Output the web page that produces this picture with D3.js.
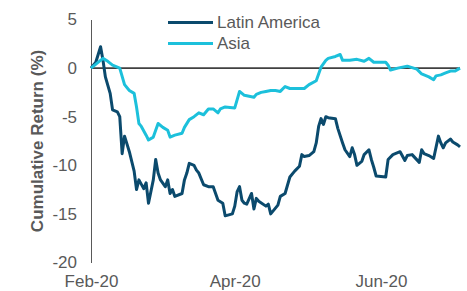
<!DOCTYPE html>
<html>
<head>
<meta charset="utf-8">
<script src="https://cdn.jsdelivr.net/npm/d3@7"></script>
<style>
  body { margin: 0; background: #fff; }
  svg { display: block; font-family: "Liberation Sans", Arial, sans-serif; }
  .tick text { fill: #595959; font-size: 17px; }
  .axislabel { fill: #595959; font-size: 17px; font-weight: bold; }
  .legend text { fill: #595959; font-size: 17px; }
</style>
</head>
<body>
<div id="chart"></div>
<script>
// cumulative return (%)
var latamDates = ["2020-02-01","2020-02-03","2020-02-05","2020-02-06","2020-02-07","2020-02-09","2020-02-10","2020-02-12","2020-02-13","2020-02-14",
  "2020-02-15","2020-02-16","2020-02-17","2020-02-18","2020-02-19","2020-02-20","2020-02-21","2020-02-23","2020-02-24","2020-02-25",
  "2020-02-27","2020-02-28","2020-02-29","2020-03-01","2020-03-03","2020-03-04","2020-03-05","2020-03-06","2020-03-07","2020-03-10",
  "2020-03-11","2020-03-12","2020-03-13","2020-03-15","2020-03-16","2020-03-17","2020-03-19","2020-03-21","2020-03-23","2020-03-25",
  "2020-03-27","2020-03-28","2020-03-31","2020-04-01","2020-04-02","2020-04-03","2020-04-04","2020-04-05","2020-04-06","2020-04-08",
  "2020-04-09","2020-04-10","2020-04-11","2020-04-14","2020-04-15","2020-04-16","2020-04-19","2020-04-20","2020-04-22","2020-04-24",
  "2020-04-26","2020-04-28","2020-04-29","2020-04-30","2020-05-02","2020-05-04","2020-05-05","2020-05-06","2020-05-07","2020-05-08",
  "2020-05-09","2020-05-10","2020-05-13","2020-05-14","2020-05-16","2020-05-17","2020-05-19","2020-05-20","2020-05-21","2020-05-22",
  "2020-05-24","2020-05-25","2020-05-27","2020-05-28","2020-05-29","2020-05-30","2020-06-03","2020-06-04","2020-06-06","2020-06-07",
  "2020-06-09","2020-06-11","2020-06-12","2020-06-14","2020-06-17","2020-06-18","2020-06-19","2020-06-21","2020-06-23","2020-06-25",
  "2020-06-26","2020-06-27","2020-06-28","2020-06-30","2020-07-01","2020-07-03","2020-07-04"];
var latamReturns = [0, 0.6, 2.2, 0.8, -0.9, -2.6, -4.3, -4.5, -5.0, -8.8,
  -7.0, -7.8, -8.6, -9.6, -10.6, -12.5, -11.5, -12.4, -11.8, -13.9,
  -11.5, -9.4, -10.8, -11.5, -12.2, -11.5, -12.9, -12.5, -13.2, -12.9,
  -11.5, -10.8, -9.8, -10.0, -10.5, -10.8, -12.0, -12.2, -12.2, -13.6,
  -13.9, -15.2, -15.0, -14.2, -12.7, -12.2, -13.6, -13.9, -14.0, -12.9,
  -14.5, -13.4, -13.7, -14.2, -14.0, -15.0, -14.1, -13.2, -12.9, -11.2,
  -10.6, -10.1, -8.9, -9.1, -9.0, -8.6, -7.7, -6.0, -5.2, -5.8,
  -5.0, -5.1, -5.2, -6.2, -7.7, -8.4, -9.1, -8.2, -8.9, -10.0,
  -9.6, -8.9, -8.4, -9.4, -10.2, -11.1, -11.2, -9.4, -8.9, -8.8,
  -8.6, -9.5, -9.0, -8.9, -9.7, -8.4, -8.8, -9.0, -9.3, -7.0,
  -7.7, -8.2, -7.7, -7.3, -7.6, -7.9, -8.1];

var asiaDates = ["2020-02-01","2020-02-06","2020-02-08","2020-02-10","2020-02-13","2020-02-15","2020-02-17","2020-02-19","2020-02-20","2020-02-21",
  "2020-02-22","2020-02-24","2020-02-25","2020-02-27","2020-02-29","2020-03-02","2020-03-04","2020-03-05","2020-03-07","2020-03-10",
  "2020-03-11","2020-03-13","2020-03-15","2020-03-17","2020-03-19","2020-03-21","2020-03-23","2020-03-25","2020-03-26","2020-03-28",
  "2020-04-01","2020-04-03","2020-04-05","2020-04-07","2020-04-09","2020-04-10","2020-04-12","2020-04-14","2020-04-16","2020-04-18",
  "2020-04-20","2020-04-22","2020-04-24","2020-04-30","2020-05-02","2020-05-05","2020-05-07","2020-05-09","2020-05-10","2020-05-13",
  "2020-05-15","2020-05-16","2020-05-19","2020-05-22","2020-05-25","2020-05-27","2020-05-29","2020-06-03","2020-06-04","2020-06-05",
  "2020-06-08","2020-06-12","2020-06-16","2020-06-18","2020-06-21","2020-06-23","2020-06-24","2020-06-26","2020-06-28","2020-06-30",
  "2020-07-02","2020-07-04"];
var asiaReturns = [0, 1.0, 0.7, 0.3, 0.0, -1.7, -2.3, -2.6, -4.0, -5.7,
  -6.0, -6.9, -7.4, -7.1, -5.7, -6.1, -6.4, -7.1, -6.9, -6.7,
  -6.1, -5.3, -5.0, -4.6, -4.8, -4.2, -4.2, -4.6, -4.2, -4.0,
  -4.1, -2.4, -2.8, -2.9, -3.0, -2.7, -2.5, -2.4, -2.3, -2.3,
  -2.4, -1.9, -2.1, -2.1, -1.7, -1.3, 0.1, 0.8, 1.0, 1.2,
  1.4, 0.8, 0.8, 0.9, 0.7, 1.0, 0.6, 0.6, 0.3, -0.2,
  0.0, 0.2, -0.1, -0.6, -0.9, -1.2, -0.8, -0.7, -0.5, -0.3,
  -0.3, 0.0];

var seriesNames = ["Latin America", "Asia"];
var seriesColors = ["#0b4a6d", "#1cc0db"];
var yTicks = [5, 0, -5, -10, -15, -20];
var xTickDates = ["2020-02-01", "2020-04-01", "2020-06-01"];
var xDomain = ["2020-02-01", "2020-07-04"];

var width = 467, height = 291;
var margin = {top: 19.5, right: 7, bottom: 28.5, left: 91};

var parse = d3.timeParse("%Y-%m-%d");

var svg = d3.select("#chart")
  .append("svg")
  .attr("width", width)
  .attr("height", height);

var x = d3.scaleTime()
  .domain(xDomain.map(parse))
  .range([margin.left, width - margin.right]);

var y = d3.scaleLinear()
  .domain([-20, 5])
  .range([height - margin.bottom, margin.top]);

// zero line
svg.append("line")
  .attr("x1", x.range()[0])
  .attr("x2", x.range()[1])
  .attr("y1", y(0))
  .attr("y2", y(0))
  .attr("stroke", "#404040")
  .attr("stroke-width", 1.75);

// Y axis
var yAxis = svg.append("g")
  .attr("transform", "translate(" + margin.left + ",0)")
  .call(d3.axisLeft(y).tickValues(yTicks).tickSize(0).tickPadding(14)
    .tickFormat(function(d) { return String(d); }));
yAxis.select(".domain").attr("stroke", "#595959").attr("stroke-width", 1);
yAxis.selectAll("text").attr("font-family", null).attr("font-size", null);

// X axis (labels only)
var xAxis = svg.append("g")
  .attr("transform", "translate(0," + y(-20) + ")")
  .call(d3.axisBottom(x).tickValues(xTickDates.map(parse)).tickSize(0).tickPadding(12)
    .tickFormat(d3.timeFormat("%b-%y")));
xAxis.select(".domain").remove();
xAxis.selectAll("text").attr("font-family", null).attr("font-size", null);

// y axis title
svg.append("text")
  .attr("transform", "rotate(-90)")
  .attr("x", 0 - (y(5) + y(-20)) / 2)
  .attr("y", 37)
  .attr("dy", "0.35em")
  .style("text-anchor", "middle")
  .text("Cumulative Return (%)").attr("class", "axislabel");

// lines
var line = d3.line()
  .x(function(d) { return x(d.date); })
  .y(function(d) { return y(d.value); });

var seriesData = [
  latamDates.map(function(d, i) { return {date: parse(d), value: latamReturns[i]}; }),
  asiaDates.map(function(d, i) { return {date: parse(d), value: asiaReturns[i]}; })
];

svg.selectAll(".series")
  .data(seriesData)
  .enter()
  .append("path")
  .attr("class", "series")
  .attr("d", line)
  .attr("fill", "none")
  .attr("stroke", function(d, i) { return seriesColors[i]; })
  .attr("stroke-width", 3)
  .attr("stroke-linejoin", "round");

// legend
var legend = svg.append("g").attr("class", "legend")
  .selectAll("g")
  .data(seriesNames)
  .enter()
  .append("g")
  .attr("transform", function(d, i) { return "translate(168," + (22.5 + i * 21) + ")"; });

legend.append("line")
  .attr("x1", 0).attr("x2", 45)
  .attr("stroke", function(d, i) { return seriesColors[i]; })
  .attr("stroke-width", 3);

legend.append("text")
  .attr("x", 49)
  .attr("dy", "0.35em")
  .text(function(d) { return d; });
</script>
</body>
</html>
